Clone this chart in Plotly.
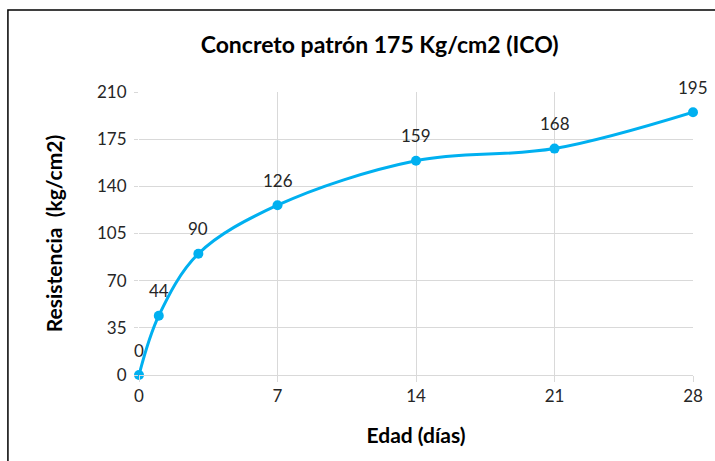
import plotly.graph_objects as go

# datos
edad = [0, 1, 3, 7, 14, 21, 28]
resistencia = [0, 44, 90, 126, 159, 168, 195]
x_ticks = [0, 7, 14, 21, 28]
y_ticks = [0, 35, 70, 105, 140, 175, 210]

azul = "#00B0F0"
fuente = "Lato, Open Sans, sans-serif"

fig = go.Figure()

fig.add_trace(go.Scatter(
    x=edad,
    y=resistencia,
    mode="lines+markers",
    line=dict(color=azul, width=3, shape="spline", smoothing=1.0),
    marker=dict(color=azul, size=10),
    cliponaxis=False,
    showlegend=False,
))

# etiquetas de datos encima de cada punto
for xv, yv in zip(edad, resistencia):
    fig.add_annotation(
        x=xv, y=yv, text=str(yv), showarrow=False,
        yshift=25, font=dict(family=fuente, size=17, color="#262626"),
    )

fig.update_layout(
    width=715,
    height=461,
    margin=dict(l=139, r=18, t=92, b=86),
    paper_bgcolor="white",
    plot_bgcolor="white",
    font=dict(family=fuente, size=17, color="#262626"),
    title=dict(
        text="<b>Concreto patrón 175 Kg/cm2 (ICO)</b>",
        x=0.531, xref="container", xanchor="center",
        y=0.902, yref="container", yanchor="middle",
        font=dict(family=fuente, size=23, color="#000000"),
    ),
    shapes=[dict(
        type="rect", xref="paper", yref="paper",
        x0=-0.2366, x1=1.3, y0=-0.6, y1=1.2898,
        line=dict(color="#000000", width=1.5),
    )],
)

fig.update_xaxes(
    range=[0, 28],
    tickvals=x_ticks,
    showgrid=True, gridcolor="#D9D9D9", gridwidth=1,
    zeroline=False,
    showline=True, linecolor="#D9D9D9",
    ticks="outside", ticklen=6, tickcolor="#D9D9D9",
    tickfont=dict(size=17),
    title=dict(text="<b>Edad (días)</b>", font=dict(size=21, color="#000000"), standoff=22),
)

fig.update_yaxes(
    range=[0, 210],
    tickvals=y_ticks,
    showgrid=True, gridcolor="#D9D9D9", gridwidth=1,
    zeroline=False,
    showline=False,
    ticks="outside", ticklen=4, tickcolor="#D9D9D9",
    ticklabelstandoff=4,
    tickfont=dict(size=17),
    title=dict(text="<b>Resistencia  (kg/cm2)</b>", font=dict(size=21, color="#000000"), standoff=28),
)

fig.write_html(
    "out.html",
    config={"displayModeBar": False},
    post_script="document.body.style.margin='0';",
)
